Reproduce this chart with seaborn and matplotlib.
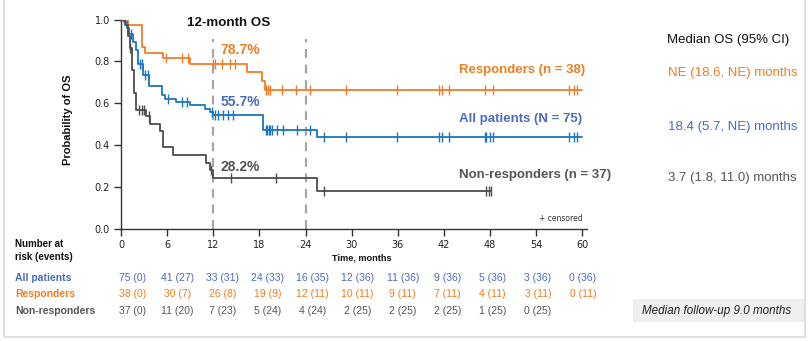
import numpy as np
import pandas as pd
import matplotlib
matplotlib.use("Agg")
import matplotlib.pyplot as plt
import seaborn as sns
from matplotlib.patches import Rectangle

# ---------------- data ----------------
groups = ["Responders", "All patients", "Non-responders"]
legend_labels = ["Responders (n = 38)", "All patients (N = 75)", "Non-responders (n = 37)"]

resp_times = [0, 0.9, 2.7, 3.1, 5.5, 9.0, 16.4, 18.4, 18.7]
resp_surv = [1.0, 0.974, 0.868, 0.842, 0.816, 0.789, 0.750, 0.708, 0.665]
resp_end = 60.0
resp_cens = [5.9, 7.9, 8.7, 12.0, 12.2, 13.1, 14.2, 14.8, 18.9, 19.1, 19.4, 21.0, 22.7,
             24.6, 29.2, 35.9, 41.3, 41.7, 42.7, 47.3, 48.4, 58.2, 58.9, 59.3]

all_times = [0, 0.4, 0.8, 1.1, 1.6, 1.9, 2.2, 2.9, 3.6, 5.3, 5.7, 7.1, 9.0, 10.9, 11.6, 12.0, 18.5, 25.5]
all_surv = [1.0, 0.987, 0.96, 0.933, 0.893, 0.853, 0.787, 0.733, 0.683, 0.64, 0.62, 0.607,
            0.593, 0.575, 0.558, 0.544, 0.473, 0.44]
all_end = 60.0
all_cens = [1.3, 2.5, 2.7, 3.1, 3.5, 6.1, 7.9, 8.6, 11.8, 12.2, 12.6, 13.3, 13.9, 14.6,
            18.8, 19.0, 19.2, 19.4, 19.7, 20.3, 21.1, 22.9, 24.6, 26.4, 29.2, 35.9, 41.3,
            41.7, 42.7, 47.3, 47.5, 48.0, 48.4, 58.2, 58.9, 59.3]

non_times = [0, 0.5, 0.9, 1.2, 1.4, 1.7, 2.0, 3.3, 3.8, 5.1, 5.5, 6.8, 11.1, 11.6, 12.0, 25.5]
non_surv = [1.0, 0.973, 0.919, 0.865, 0.757, 0.65, 0.568, 0.54, 0.50, 0.466, 0.393, 0.353,
            0.313, 0.28, 0.243, 0.183]
non_end = 48.1
non_cens = [1.2, 2.3, 2.7, 3.0, 3.7, 11.7, 14.3, 20.1, 26.4, 47.5, 47.8, 48.1]

os12 = ["78.7%", "55.7%", "28.2%"]
os12_y = [0.855, 0.606, 0.296]
label_y = [0.76, 0.525, 0.258]

median_header = "Median OS (95% CI)"
median_text = ["NE (18.6, NE) months", "18.4 (5.7, NE) months", "3.7 (1.8, 11.0) months"]

risk_months = [0, 6, 12, 18, 24, 30, 36, 42, 48, 54, 60]
risk_all = [75, 41, 33, 24, 16, 12, 11, 9, 5, 3, 0]
events_all = [0, 27, 31, 33, 35, 36, 36, 36, 36, 36, 36]
risk_resp = [38, 30, 26, 19, 12, 10, 9, 7, 4, 3, 0]
events_resp = [0, 7, 8, 9, 11, 11, 11, 11, 11, 11, 11]
risk_non = [37, 11, 7, 5, 4, 2, 2, 2, 1, 0]
events_non = [0, 20, 23, 24, 24, 25, 25, 25, 25, 25]

landmarks = [12, 24]
followup = "Median follow-up 9.0 months"

# ---------------- style ----------------
sns.set_style("ticks")
plt.rcParams["font.family"] = ["Liberation Sans", "DejaVu Sans"]

line_cols = {"Responders": "#F07D2B", "All patients": "#1C75BC", "Non-responders": "#4D4D4D"}
text_cols = {"Responders": "#F07D1F", "All patients": "#4A6CBD", "Non-responders": "#555555"}

fig = plt.figure(figsize=(8.08, 3.41), dpi=100)
ax = fig.add_axes([121 / 808, 112 / 341, 466 / 808, 209.5 / 341])

curves = {
    "Responders": (resp_times, resp_surv, resp_end, resp_cens),
    "All patients": (all_times, all_surv, all_end, all_cens),
    "Non-responders": (non_times, non_surv, non_end, non_cens),
}

line_rows = []
cens_rows = []
for g, (t, s, end, c) in curves.items():
    tt = list(t) + [end]
    ss = list(s) + [s[-1]]
    for a, b in zip(tt, ss):
        line_rows.append({"group": g, "time": a, "surv": b})
    t_arr = np.array(t)
    s_arr = np.array(s)
    for ct in c:
        idx = np.searchsorted(t_arr, ct, side="right") - 1
        cens_rows.append({"group": g, "time": ct, "surv": s_arr[idx]})

df_line = pd.DataFrame(line_rows)
df_cens = pd.DataFrame(cens_rows)

for lm in landmarks:
    ax.vlines(lm, 0, 0.905, colors="#A6A6A6", linestyles=(0, (4, 3)), linewidth=1.6, zorder=1)

for g in groups:
    sub = df_line[df_line.group == g]
    sns.lineplot(data=sub, x="time", y="surv", drawstyle="steps-post", color=line_cols[g],
                 linewidth=1.3, ax=ax, estimator=None, sort=False, zorder=3)
    subc = df_cens[df_cens.group == g]
    sns.scatterplot(data=subc, x="time", y="surv", marker="|", s=50, linewidth=1.0,
                    color=line_cols[g], ax=ax, zorder=4)

ax.set_xlim(0, 60.6)
ax.set_ylim(0, 1.0)
ax.set_xticks(risk_months)
ax.set_xticklabels([str(m) for m in risk_months], fontsize=7, family="DejaVu Sans")
ax.set_yticks([0, 0.2, 0.4, 0.6, 0.8, 1.0])
ax.set_yticklabels(["0.0", "0.2", "0.4", "0.6", "0.8", "1.0"], fontsize=7, family="DejaVu Sans")
ax.tick_params(axis="both", length=5, width=1, color="#333333", labelcolor="#222222", pad=3)
for sp in ["top", "right"]:
    ax.spines[sp].set_visible(False)
for sp in ["left", "bottom"]:
    ax.spines[sp].set_color("#333333")
    ax.spines[sp].set_linewidth(1)
ax.set_xlabel("")
ax.set_ylabel("")
ax.patch.set_alpha(0)

# title and annotations
ax.text(14.0, 0.985, "12-month OS", ha="center", va="center", fontsize=9.6, fontweight="bold", color="#111111")
for g, txt, yv in zip(groups, os12, os12_y):
    ax.text(12.9, yv, txt, ha="left", va="center", fontsize=10, fontweight="bold", color=text_cols[g])
for g, txt, yv in zip(groups, legend_labels, label_y):
    ax.text(44.0, yv, txt, ha="left", va="center", fontsize=9.5, fontweight="bold",
            color=text_cols[g], clip_on=False)
ax.text(60.0, 0.05, "+ censored", ha="right", va="center", fontsize=5.5, color="#333333",
        family="DejaVu Sans")

fig.text(68 / 808, 1 - 120 / 341, "Probability of OS", rotation=90, ha="center", va="center",
         fontsize=8, fontweight="bold", color="#111111")

# median OS column
fig.text(667 / 808, 1 - 40 / 341, median_header, ha="left", va="center", fontsize=9.5, color="#111111")
for g, txt, py in zip(groups, median_text, [73, 127, 178]):
    fig.text(668 / 808, 1 - py / 341, txt, ha="left", va="center", fontsize=9.5, color=text_cols[g])

# risk table
fig.text(15 / 808, 1 - 250.5 / 341, "Number at\nrisk (events)", ha="left", va="center", fontsize=7,
         fontweight="bold", color="#111111", linespacing=1.35)
fig.text(362 / 808, 1 - 258 / 341, "Time, months", ha="center", va="center", fontsize=6.6,
         fontweight="bold", color="#111111")

trans = ax.get_xaxis_transform()
rows = [("All patients", risk_all, events_all, 278),
        ("Responders", risk_resp, events_resp, 294),
        ("Non-responders", risk_non, events_non, 311)]
for g, nr, ev, py in rows:
    fig.text(15 / 808, 1 - py / 341, g, ha="left", va="center", fontsize=7.5, fontweight="bold",
             color=text_cols[g])
    yax = (229 - py) / 209.5
    for m, n, e in zip(risk_months, nr, ev):
        ax.text(m * 0.976 + 1.5, yax, f"{n} ({e})", transform=trans, ha="center", va="center",
                fontsize=7.5, color=text_cols[g], clip_on=False)

# follow-up box
fig.patches.append(Rectangle((633 / 808, 1 - 322 / 341), (805 - 633) / 808, 23 / 341,
                             transform=fig.transFigure, facecolor="#EFEFEF", edgecolor="none", zorder=0))
fig.text(717 / 808, 1 - 311 / 341, followup, ha="center", va="center", fontsize=8.4,
         style="italic", color="#222222")

# outer frame
fig.patches.append(Rectangle((4 / 808, 4 / 341), (805 - 4) / 808, 1.2, transform=fig.transFigure,
                             facecolor="none", edgecolor="#D9D9D9", linewidth=1.2, zorder=0))

fig.savefig("out.png", dpi=100)
